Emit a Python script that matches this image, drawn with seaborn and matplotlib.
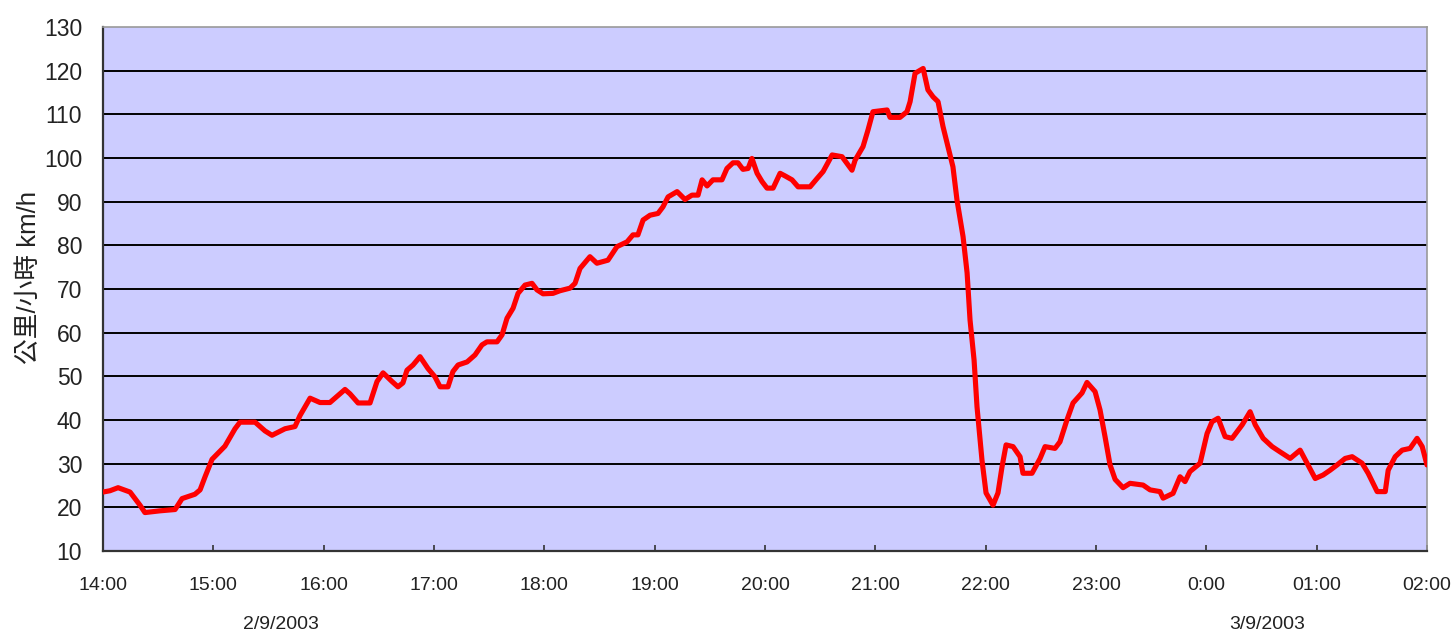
import matplotlib
matplotlib.use("Agg")
import matplotlib.pyplot as plt
import matplotlib.transforms as mtransforms
import seaborn as sns
import pandas as pd

# ---- data ----
minutes_after_1400 = [
    0, 3.8, 8.2, 14.7, 20.1, 22.8, 31.0, 39.2, 43.0, 50.0, 52.8, 55.5, 59.3,
    66.3, 71.8, 74.5, 82.7, 88.1, 91.9, 99.0, 104.4, 107.1, 112.6, 118.0,
    123.4, 131.6, 134.3, 138.7, 145.2, 149.0, 152.3, 157.2, 160.4, 163.1,
    165.3, 168.6, 172.4, 176.7, 180.5, 183.3, 187.6, 190.3, 193.1, 198.0,
    202.3, 206.1, 208.8, 214.3, 217.0, 219.7, 223.0, 225.7, 229.5, 233.3,
    236.0, 239.3, 244.7, 248.5, 254.0, 256.7, 259.4, 264.8, 268.6, 274.6,
    279.5, 285.0, 288.2, 290.9, 293.7, 297.5, 301.8, 304.5, 307.3, 312.2,
    316.5, 320.3, 323.6, 325.8, 328.5, 331.7, 336.6, 339.3, 342.6, 345.3,
    348.0, 350.8, 352.9, 355.7, 358.4, 361.1, 364.4, 368.2, 370.9, 374.7,
    378.0, 384.5, 388.3, 391.6, 396.5, 401.9, 407.3, 409.0, 413.3, 416.0,
    418.7, 426.4, 428.0, 433.4, 437.2, 438.9, 441.6, 446.0, 448.6, 451.4,
    454.1, 456.8, 459.5, 462.2, 464.4, 467.7, 469.9, 471.5, 473.7, 475.3,
    478.0, 480.2, 484.0, 486.7, 488.9, 491.1, 494.9, 498.7, 500.3, 505.2,
    509.6, 512.3, 517.7, 520.4, 524.2, 527.5, 532.4, 535.1, 539.5, 542.2,
    544.9, 547.6, 550.4, 554.7, 558.5, 565.6, 569.4, 574.8, 576.5, 581.9,
    585.7, 588.4, 591.1, 596.6, 600.4, 603.1, 606.4, 610.2, 614.0, 619.5,
    623.8, 626.6, 630.9, 635.8, 640.1, 645.6, 651.0, 654.8, 659.2, 663.5,
    667.3, 671.1, 675.5, 679.3, 684.7, 688.0, 692.9, 697.3, 698.9, 702.7,
    706.5, 710.8, 714.6, 717.4, 720.0,
]
speed_kmh = [
    23.5, 23.8, 24.5, 23.5, 20.5, 18.8, 19.2, 19.5, 22.0, 23.0, 24.0, 27.0, 31.0,
    34.0, 38.0, 39.5, 39.5, 37.5, 36.5, 38.0, 38.5, 41.0, 45.0, 44.0,
    44.0, 47.0, 46.0, 43.9, 43.9, 48.8, 50.8, 48.8, 47.6, 48.5,
    51.4, 52.6, 54.5, 51.8, 49.9, 47.6, 47.6, 51.1, 52.6, 53.3,
    54.9, 57.2, 57.9, 57.9, 59.5, 63.3, 65.6, 69.0, 70.9, 71.3,
    69.8, 68.9, 69.0, 69.6, 70.2, 71.3, 74.7, 77.4, 75.9, 76.6,
    79.7, 80.8, 82.4, 82.4, 85.8, 86.9, 87.3, 88.8, 91.1, 92.3,
    90.5, 91.5, 91.5, 95.0, 93.6, 95.0, 95.0, 97.6, 98.9, 98.9,
    97.4, 97.6, 99.9, 96.5, 94.6, 93.1, 93.1, 96.5, 95.9, 95.0,
    93.4, 93.4, 95.3, 96.9, 100.7, 100.3, 97.2, 99.5, 102.6, 106.4,
    110.6, 111.0, 109.3, 109.3, 110.6, 112.9, 119.4, 120.5, 115.6, 114.0,
    112.9, 107.2, 102.6, 98.0, 90.4, 82.0, 73.7, 62.9, 53.7, 43.0,
    30.8, 23.3, 20.5, 23.3, 29.3, 34.3, 33.9, 31.6, 27.8, 27.8,
    31.2, 33.9, 33.5, 35.0, 40.0, 43.9, 46.2, 48.6, 46.5, 42.3,
    36.2, 29.8, 26.4, 24.5, 25.5, 25.1, 24.0, 23.6, 22.1, 23.2,
    27.0, 25.9, 28.2, 30.1, 36.9, 39.6, 40.4, 36.2, 35.8, 38.9,
    41.9, 38.9, 35.8, 33.9, 32.7, 31.2, 33.1, 30.1, 26.6, 27.4,
    28.5, 29.7, 31.2, 31.6, 30.1, 27.8, 23.6, 23.6, 28.5, 31.6,
    33.1, 33.5, 35.8, 33.9, 29.7,
]
tick_minutes = [0, 60, 120, 180, 240, 300, 360, 420, 480, 540, 600, 660, 720]
tick_labels = ["14:00", "15:00", "16:00", "17:00", "18:00", "19:00", "20:00",
               "21:00", "22:00", "23:00", "0:00", "01:00", "02:00"]
y_ticks = [10, 20, 30, 40, 50, 60, 70, 80, 90, 100, 110, 120, 130]
date_labels = ["2/9/2003", "3/9/2003"]
date_label_minutes = [97, 633]
y_label = "公里/小時 km/h"

df = pd.DataFrame({"minute": minutes_after_1400, "speed": speed_kmh})

sns.set_style("white")
plt.rcParams["font.family"] = ["Liberation Sans", "Noto Sans CJK TC", "DejaVu Sans"]

fig = plt.figure(figsize=(14.56, 6.34), dpi=100)
ax = fig.add_axes([103 / 1456, 1 - 551 / 634, (1427 - 103) / 1456, (551 - 27) / 634])
ax.set_facecolor("#CCCCFF")

for yv in y_ticks[1:-1]:
    ax.axhline(yv, color="black", lw=1.4, zorder=1)

sns.lineplot(data=df, x="minute", y="speed", color="#FF0000", lw=3.7, ax=ax,
             zorder=3, estimator=None, sort=False)

ax.set_xlim(0, 720)
ax.set_ylim(10, 130)
ax.set_xticks(tick_minutes)
ax.set_xticklabels(tick_labels, fontsize=14, color="#222222")
ax.set_yticks(y_ticks)
ax.set_yticklabels([str(v) for v in y_ticks], fontsize=16.5, color="#222222")
ax.tick_params(axis="x", direction="in", length=4, width=1.2, pad=19, color="#333333",
               bottom=True)
ax.tick_params(axis="y", direction="out", length=0, pad=15, left=True)
ax.set_xlabel("")
ax.set_ylabel(y_label, fontsize=18.5, color="#222222")
ax.yaxis.set_label_coords(-0.047, 0.521)

for name in ["left", "bottom"]:
    ax.spines[name].set_color("#333333")
    ax.spines[name].set_linewidth(1.6)
for name in ["top", "right"]:
    ax.spines[name].set_color("#999999")
    ax.spines[name].set_linewidth(1.2)

trans = mtransforms.blended_transform_factory(ax.transData, ax.transAxes)
for lbl, m in zip(date_labels, date_label_minutes):
    ax.text(m, -0.1395, lbl, transform=trans, ha="center", va="center",
            fontsize=14, color="#222222")

fig.savefig("out.png", dpi=100, facecolor="white")
